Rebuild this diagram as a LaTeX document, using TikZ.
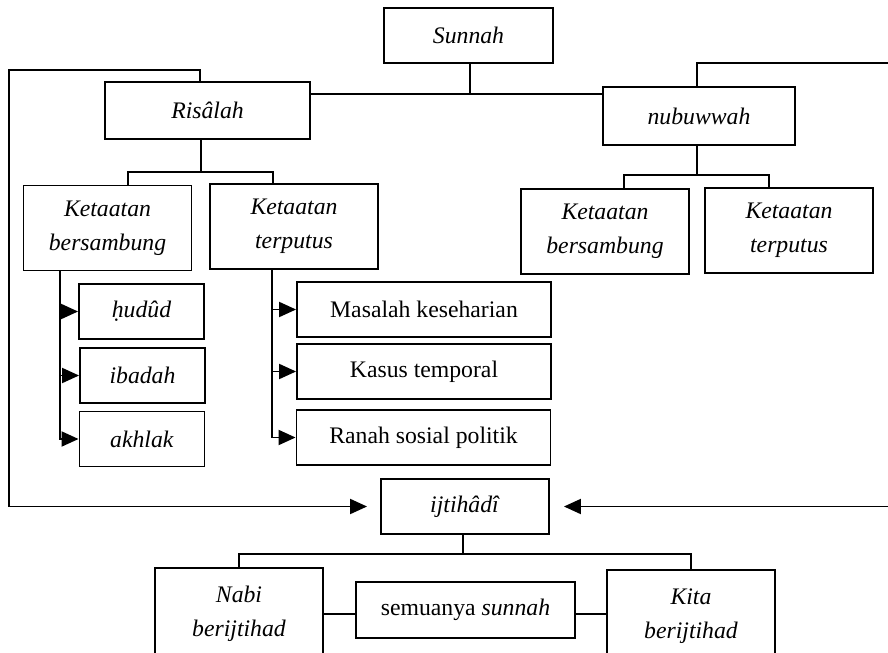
\documentclass[tikz,border=0pt]{standalone}
\usepackage{fontspec}
\setmainfont{Liberation Serif}
\usepackage{tikz}
\usetikzlibrary{arrows.meta}
\tikzstyle{box}=[draw,line width=1.1pt,align=center,inner sep=2pt,font=\fontsize{13.5}{19.4}\selectfont]
\tikzstyle{kbox}=[box,minimum width=3.36cm,minimum height=1.7cm]
\tikzstyle{sbox}=[box,minimum width=2.5cm,minimum height=1.1cm]
\tikzstyle{mbox}=[box,minimum width=5.08cm,minimum height=1.1cm]
\tikzstyle{tbox}=[box,minimum width=3.36cm,minimum height=1.84cm]
\tikzstyle{conn}=[line width=1.1pt]
\tikzstyle{arr}=[conn,-{Triangle[length=0.34cm,width=0.3cm]}]

\begin{document}
\begin{tikzpicture}[x=0.02cm,y=-0.02cm]
        \useasboundingbox (0,0) rectangle (888,652);
        % top level
        \node at (468.5, 35.5) [box,minimum width=3.38cm,minimum height=1.1cm] (sunnah) {\textit{Sunnah}};
        \node at (207.5,110.5) [box,minimum width=4.1cm,minimum height=1.14cm] (risalah) {\textit{Risâlah}};
        \node at (699,116) [box,minimum width=3.84cm,minimum height=1.16cm] (nubuwwah) {\textit{nubuwwah}};
        % ketaatan
        \node at (107.5,228) [kbox] (kb1) {\textit{Ketaatan}\\\textit{bersambung}};
        \node at (294,226.5) [kbox] (kt1) {\textit{Ketaatan}\\\textit{terputus}};
        \node at (605,231.5) [kbox] (kb2) {\textit{Ketaatan}\\\textit{bersambung}};
        \node at (789,230.5) [kbox] (kt2) {\textit{Ketaatan}\\\textit{terputus}};
        % sub items
        \node at (141.5,311.5) [sbox] (hudud) {\textit{ḥudûd}};
        \node at (142.5,375.5) [sbox] (ibadah) {\textit{ibadah}};
        \node at (142,439) [sbox] (akhlak) {\textit{akhlak}};
        \node at (424,309.5) [mbox] (masalah) {Masalah keseharian};
        \node at (424,371.5) [mbox] (kasus) {Kasus temporal};
        \node at (423.5,437.5) [mbox] (ranah) {Ranah sosial politik};
        % ijtihadi
        \node at (465,506.5) [box,minimum width=3.36cm,minimum height=1.1cm] (ijtihadi) {\textit{ijtihâdî}};
        \node at (239,614) [tbox] (nabi) {\textit{Nabi}\\\textit{berijtihad}};
        \node at (465.5,610) [box,minimum width=4.38cm,minimum height=1.12cm] (semua) {semuanya \textit{sunnah}};
        \node at (691,616) [tbox] (kita) {\textit{Kita}\\\textit{berijtihad}};

        \coordinate (sj) at (470,94);
        \draw[conn] (sunnah.south -| sj) -- (sj);
        \draw[conn] (risalah.east |- sj) -- (nubuwwah.west |- sj);
        % loops to ijtihadi
        \coordinate (lup) at (9,70);
        \coordinate (rup) at (893,63);
        \draw[arr,shorten >=0.26cm] (risalah.north -| 200,0) |- (lup) |- (ijtihadi.west);
        \draw[arr,shorten >=0.28cm] (nubuwwah.north -| 697,0) |- (rup) |- (ijtihadi.east);
        % risalah branch
        \coordinate (rj) at (201,172);
        \draw[conn] (risalah.south -| rj) -- (rj);
        \draw[conn] (kb1.north -| 128,0) |- (rj) -| (kt1.north -| 273,0);
        % nubuwwah branch
        \coordinate (nj) at (697,175);
        \draw[conn] (nubuwwah.south -| nj) -- (nj);
        \draw[conn] (kb2.north -| 624,0) |- (nj) -| (kt2.north -| 769,0);
        % lists
        \coordinate (kbl) at (60,270);
        \draw[arr] (kb1.south -| kbl) |- (akhlak.west);
        \draw[arr] (kbl |- hudud.west) -- (hudud.west);
        \draw[arr] (kbl |- ibadah.west) -- (ibadah.west);
        \coordinate (ktl) at (272,269);
        \draw[arr] (kt1.south -| ktl) |- (ranah.west);
        \draw[arr] (ktl |- masalah.west) -- (masalah.west);
        \draw[arr] (ktl |- kasus.west) -- (kasus.west);
        % ijtihadi branch
        \coordinate (ij) at (463,554);
        \draw[conn] (ijtihadi.south -| ij) -- (ij);
        \draw[conn] (nabi.north) |- (ij) -| (kita.north);
        \draw[conn] (nabi.east) -- (semua.west |- nabi.east);
        \draw[conn] (semua.east |- nabi.east) -- (kita.west |- nabi.east);
      \end{tikzpicture}
\end{document}
